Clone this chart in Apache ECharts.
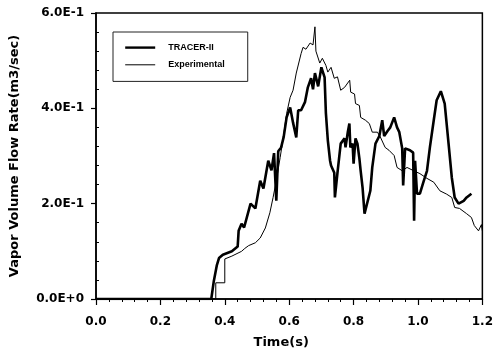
<!DOCTYPE html>
<html>
<head>
<meta charset="utf-8">
<script src="https://cdn.jsdelivr.net/npm/echarts@6/dist/echarts.min.js"></script>
<style>html,body{margin:0;padding:0;background:#fff;}#chart{width:496px;height:354px;}</style>
</head>
<body>
<div id="chart"></div>
<script>
// ---- data ----
const seriesNames = ['TRACER-II', 'Experimental'];
const xTicks = [0, 0.2, 0.4, 0.6, 0.8, 1.0, 1.2];
const xTickLabels = ['0.0', '0.2', '0.4', '0.6', '0.8', '1.0', '1.2'];
const yTicks = [0, 0.2, 0.4, 0.6];
const yTickLabels = ['0.0E+0', '2.0E-1', '4.0E-1', '6.0E-1'];

const tracerTime = [0, 0.358, 0.366, 0.375, 0.382, 0.394, 0.41, 0.422, 0.44, 0.443, 0.452, 0.46, 0.48, 0.495, 0.51, 0.52, 0.535, 0.545, 0.553, 0.56, 0.566, 0.575, 0.583, 0.592, 0.603, 0.612, 0.622, 0.628, 0.637, 0.649, 0.658, 0.668, 0.674, 0.68, 0.69, 0.7, 0.71, 0.714, 0.72, 0.727, 0.73, 0.74, 0.742, 0.75, 0.76, 0.772, 0.775, 0.782, 0.787, 0.79, 0.797, 0.8, 0.806, 0.812, 0.818, 0.822, 0.828, 0.834, 0.838, 0.852, 0.858, 0.868, 0.88, 0.889, 0.895, 0.905, 0.914, 0.926, 0.935, 0.942, 0.951, 0.954, 0.96, 0.975, 0.985, 0.988, 0.991, 0.997, 1.006, 1.018, 1.028, 1.037, 1.049, 1.058, 1.071, 1.083, 1.095, 1.105, 1.114, 1.126, 1.142, 1.151, 1.166];
const tracerFlow = [0, 0, 0.038, 0.07, 0.086, 0.093, 0.097, 0.1, 0.11, 0.143, 0.158, 0.15, 0.2, 0.19, 0.248, 0.232, 0.29, 0.27, 0.306, 0.206, 0.31, 0.318, 0.34, 0.381, 0.402, 0.37, 0.339, 0.396, 0.396, 0.413, 0.444, 0.463, 0.44, 0.474, 0.446, 0.486, 0.465, 0.39, 0.333, 0.29, 0.28, 0.265, 0.213, 0.265, 0.326, 0.337, 0.318, 0.35, 0.368, 0.318, 0.326, 0.284, 0.337, 0.326, 0.295, 0.269, 0.233, 0.179, 0.181, 0.227, 0.276, 0.326, 0.342, 0.375, 0.342, 0.352, 0.36, 0.381, 0.36, 0.35, 0.316, 0.238, 0.316, 0.312, 0.307, 0.164, 0.29, 0.221, 0.221, 0.248, 0.269, 0.318, 0.375, 0.417, 0.436, 0.41, 0.326, 0.255, 0.213, 0.2, 0.206, 0.213, 0.221];

const expTime = [0, 0.358, 0.372, 0.372, 0.4, 0.4, 0.422, 0.452, 0.462, 0.468, 0.474, 0.48, 0.495, 0.51, 0.526, 0.54, 0.55, 0.56, 0.572, 0.582, 0.592, 0.603, 0.612, 0.622, 0.628, 0.637, 0.643, 0.652, 0.665, 0.674, 0.68, 0.683, 0.695, 0.703, 0.714, 0.72, 0.73, 0.74, 0.75, 0.76, 0.772, 0.788, 0.791, 0.803, 0.806, 0.818, 0.822, 0.837, 0.849, 0.858, 0.874, 0.883, 0.898, 0.91, 0.926, 0.935, 0.951, 0.966, 0.987, 1.006, 1.028, 1.049, 1.068, 1.089, 1.105, 1.114, 1.129, 1.151, 1.166, 1.175, 1.188, 1.197, 1.2];
const expFlow = [0, 0, 0, 0.034, 0.034, 0.084, 0.09, 0.1, 0.106, 0.104, 0.112, 0.108, 0.118, 0.128, 0.149, 0.181, 0.213, 0.248, 0.297, 0.34, 0.389, 0.423, 0.438, 0.474, 0.47, 0.515, 0.528, 0.524, 0.537, 0.533, 0.571, 0.52, 0.495, 0.505, 0.49, 0.476, 0.486, 0.463, 0.466, 0.438, 0.444, 0.459, 0.434, 0.43, 0.41, 0.406, 0.381, 0.375, 0.368, 0.35, 0.35, 0.34, 0.318, 0.312, 0.301, 0.276, 0.269, 0.276, 0.269, 0.263, 0.253, 0.245, 0.227, 0.22, 0.213, 0.192, 0.19, 0.179, 0.171, 0.154, 0.143, 0.156, 0.143];

// ---- chart ----
const pair = (xs, ys) => xs.map((x, i) => [x, ys[i]]);
const lab = (ticks, labels) => v => {
  const i = ticks.findIndex(t => Math.abs(t - v) < 1e-9);
  return i >= 0 ? labels[i] : '';
};
const font = 'DejaVu Sans';
const chart = echarts.init(document.getElementById('chart'), null, {renderer: 'canvas'});
chart.setOption({
  animation: false,
  backgroundColor: '#fff',
  grid: {left: 96, right: 9, top: 13, bottom: 55, show: true, borderColor: '#000', borderWidth: 1.5, containLabel: false},
  legend: {
    data: [
      {name: seriesNames[0], lineStyle: {width: 2.4, color: '#000'}},
      {name: seriesNames[1], lineStyle: {width: 1, color: '#000'}}
    ],
    orient: 'vertical',
    left: 113, top: 32,
    padding: [10, 23, 11, 11],
    itemWidth: 30, itemHeight: 14, itemGap: 6,
    borderColor: '#222', borderWidth: 1,
    itemStyle: {opacity: 0},
    textStyle: {fontFamily: 'Liberation Sans', fontWeight: 'bold', fontSize: 9, color: '#000', padding: [0, 0, 0, 8]}
  },
  xAxis: {
    type: 'value', min: 0, max: 1.2, interval: 0.2,
    name: 'Time(s)', nameLocation: 'middle', nameGap: 37,
    nameTextStyle: {fontFamily: font, fontWeight: 'bold', fontSize: 13, color: '#000', padding: [0, 16, 0, 0]},
    axisLine: {lineStyle: {color: '#000', width: 1.5}},
    axisTick: {show: true, length: 6, lineStyle: {color: '#000', width: 1.2}},
    minorTick: {show: true, splitNumber: 5, length: 3, lineStyle: {color: '#000', width: 1}},
    splitLine: {show: false},
    axisLabel: {margin: 17, fontFamily: font, fontWeight: 'bold', fontSize: 12, color: '#000', formatter: lab(xTicks, xTickLabels)}
  },
  yAxis: [{
    type: 'value', min: 0, max: 0.6, interval: 0.2, position: 'left',
    name: 'Vapor Volume Flow Rate(m3/sec)', nameLocation: 'middle', nameGap: 75,
    nameTextStyle: {fontFamily: font, fontWeight: 'bold', fontSize: 13, color: '#000'},
    axisLine: {lineStyle: {color: '#000', width: 1.5}},
    axisTick: {show: true, length: 5, lineStyle: {color: '#000', width: 1.2}},
    splitLine: {show: false},
    axisLabel: {margin: 12, fontFamily: font, fontWeight: 'bold', fontSize: 12, color: '#000', formatter: lab(yTicks, yTickLabels)}
  }, {
    type: 'value', min: 0, max: 0.6, interval: 0.2, position: 'left', offset: 0,
    axisLine: {show: false},
    axisTick: {show: false, inside: true},
    minorTick: {show: true, splitNumber: 5, length: 3, lineStyle: {color: '#000', width: 1}},
    splitLine: {show: false},
    axisLabel: {show: false}
  }],
  series: [{
    name: seriesNames[0], type: 'line', data: pair(tracerTime, tracerFlow),
    symbol: 'none', yAxisIndex: 0,
    lineStyle: {color: '#000', width: 2.6}, itemStyle: {color: '#000'}
  }, {
    name: seriesNames[1], type: 'line', data: pair(expTime, expFlow),
    symbol: 'none', yAxisIndex: 0,
    lineStyle: {color: '#000', width: 1}, itemStyle: {color: '#000'}
  }]
});
</script>
</body>
</html>
